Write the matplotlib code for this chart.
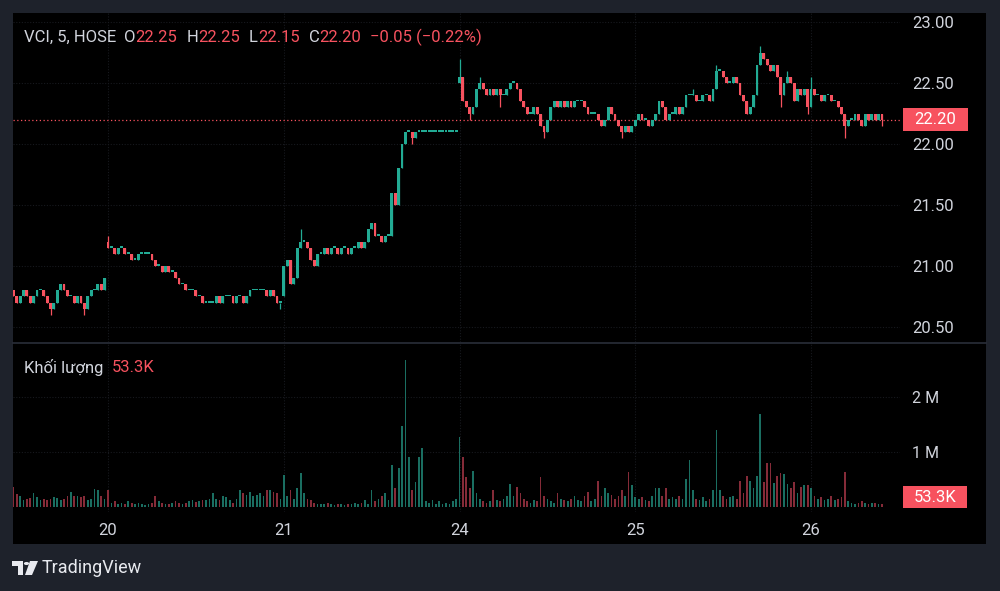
import matplotlib.pyplot as plt
from matplotlib.patches import Rectangle, Polygon, Circle

plt.rcParams['font.family'] = ['Roboto', 'DejaVu Sans']

W, H = 1000, 591

# trading days shown (5-minute bars)
days = ["19", "20", "21", "24", "25", "26"]
day_open = [20.80, 21.20, 20.75, 22.50, 22.15, 22.30]

close_19 = [20.75, 20.70, 20.75, 20.80, 20.75, 20.70, 20.75, 20.80, 20.80, 20.75,
            20.70, 20.65, 20.70, 20.80, 20.85, 20.80, 20.75, 20.75, 20.70, 20.75,
            20.70, 20.65, 20.75, 20.80, 20.80, 20.85, 20.80, 20.90]
close_20 = [21.15, 21.15, 21.10, 21.15, 21.15, 21.10, 21.10, 21.05, 21.05, 21.10,
            21.10, 21.10, 21.10, 21.05, 21.00, 21.00, 20.95, 21.00, 20.95, 20.95,
            20.90, 20.85, 20.85, 20.80, 20.80, 20.80, 20.75, 20.75, 20.70, 20.70,
            20.70, 20.70, 20.75, 20.70, 20.75, 20.75, 20.75, 20.70, 20.75, 20.75,
            20.70, 20.75, 20.80, 20.80, 20.80, 20.80, 20.80, 20.75, 20.80, 20.75,
            20.70, 20.70]
close_21 = [21.00, 21.05, 20.85, 20.90, 21.15, 21.20, 21.20, 21.15, 21.05, 21.00,
            21.10, 21.10, 21.15, 21.10, 21.15, 21.15, 21.10, 21.15, 21.15, 21.10,
            21.15, 21.15, 21.20, 21.15, 21.20, 21.30, 21.35, 21.25, 21.25, 21.20,
            21.25, 21.25, 21.60, 21.50, 21.80, 22.00, 22.10, 22.10, 22.05, 22.10,
            22.10, 22.10, 22.10, 22.10, 22.10, 22.10, 22.10, 22.10, 22.10, 22.10,
            22.10, 22.10]
close_24 = [22.55, 22.35, 22.30, 22.25, 22.30, 22.45, 22.50, 22.45, 22.40, 22.45,
            22.40, 22.45, 22.40, 22.40, 22.45, 22.50, 22.50, 22.45, 22.35, 22.30,
            22.25, 22.25, 22.30, 22.25, 22.15, 22.10, 22.20, 22.30, 22.35, 22.30,
            22.35, 22.30, 22.35, 22.30, 22.35, 22.35, 22.35, 22.30, 22.25, 22.25,
            22.25, 22.20, 22.15, 22.20, 22.30, 22.25, 22.20, 22.15, 22.10, 22.15,
            22.10, 22.15]
close_25 = [22.20, 22.25, 22.20, 22.20, 22.15, 22.20, 22.25, 22.35, 22.30, 22.20,
            22.25, 22.25, 22.30, 22.25, 22.30, 22.40, 22.40, 22.40, 22.35, 22.35,
            22.40, 22.40, 22.35, 22.45, 22.60, 22.60, 22.55, 22.50, 22.50, 22.55,
            22.50, 22.40, 22.35, 22.25, 22.30, 22.40, 22.65, 22.75, 22.70, 22.65,
            22.60, 22.65, 22.55, 22.40, 22.50, 22.55, 22.50, 22.35, 22.45, 22.40,
            22.45, 22.30]
close_26 = [22.45, 22.40, 22.40, 22.35, 22.40, 22.40, 22.35, 22.35, 22.30, 22.25,
            22.15, 22.20, 22.20, 22.25, 22.20, 22.15, 22.25, 22.20, 22.25, 22.20,
            22.25, 22.20]

# volume in millions of shares
vol_19 = [0.36, 0.23, 0.20, 0.12, 0.15, 0.16, 0.25, 0.18, 0.13, 0.14,
          0.13, 0.15, 0.18, 0.16, 0.12, 0.15, 0.20, 0.27, 0.20, 0.20,
          0.18, 0.20, 0.12, 0.15, 0.33, 0.30, 0.20, 0.15]
vol_20 = [0.30, 0.08, 0.10, 0.06, 0.08, 0.05, 0.10, 0.07, 0.05, 0.08,
          0.06, 0.04, 0.06, 0.08, 0.20, 0.10, 0.07, 0.05, 0.06, 0.08,
          0.10, 0.07, 0.05, 0.08, 0.10, 0.12, 0.09, 0.10, 0.13, 0.12,
          0.15, 0.25, 0.15, 0.12, 0.20, 0.18, 0.12, 0.08, 0.15, 0.30,
          0.25, 0.22, 0.27, 0.20, 0.22, 0.25, 0.20, 0.30, 0.30, 0.28,
          0.25, 0.15]
vol_21 = [0.58, 0.20, 0.30, 0.15, 0.35, 0.62, 0.25, 0.15, 0.12, 0.08,
          0.06, 0.05, 0.06, 0.08, 0.05, 0.04, 0.06, 0.05, 0.04, 0.06,
          0.05, 0.07, 0.05, 0.08, 0.12, 0.06, 0.30, 0.10, 0.15, 0.20,
          0.25, 0.12, 0.76, 0.34, 0.71, 1.47, 2.67, 0.90, 0.30, 0.45,
          0.90, 1.07, 0.10, 0.08, 0.12, 0.06, 0.10, 0.05, 0.08, 0.06,
          0.10, 0.15]
vol_24 = [1.27, 0.90, 0.55, 0.35, 0.65, 0.25, 0.15, 0.10, 0.08, 0.10,
          0.30, 0.12, 0.10, 0.15, 0.20, 0.42, 0.20, 0.37, 0.25, 0.15,
          0.10, 0.08, 0.12, 0.10, 0.55, 0.20, 0.15, 0.10, 0.08, 0.25,
          0.15, 0.12, 0.10, 0.15, 0.20, 0.12, 0.10, 0.20, 0.28, 0.10,
          0.15, 0.48, 0.20, 0.34, 0.25, 0.22, 0.15, 0.20, 0.30, 0.20,
          0.63, 0.40]
vol_25 = [0.18, 0.15, 0.18, 0.12, 0.10, 0.20, 0.34, 0.34, 0.20, 0.34,
          0.15, 0.18, 0.15, 0.20, 0.15, 0.50, 0.85, 0.30, 0.15, 0.12,
          0.18, 0.10, 0.15, 0.30, 1.40, 0.30, 0.20, 0.15, 0.18, 0.20,
          0.15, 0.47, 0.25, 0.56, 0.47, 0.35, 0.56, 1.70, 0.45, 0.80,
          0.80, 0.43, 0.56, 0.62, 0.60, 0.42, 0.34, 0.45, 0.25, 0.37,
          0.40, 0.40]
vol_26 = [0.34, 0.20, 0.15, 0.18, 0.12, 0.15, 0.20, 0.12, 0.15, 0.18,
          0.63, 0.10, 0.08, 0.06, 0.08, 0.10, 0.08, 0.06, 0.08, 0.07,
          0.06, 0.0533]

# wick extremes that go past the body, keyed by (day, bar of day)
wick_high = {("21", 5): 21.30, ("24", 0): 22.70, ("24", 6): 22.55,
             ("25", 17): 22.45, ("25", 24): 22.65, ("25", 37): 22.80,
             ("25", 45): 22.60, ("26", 0): 22.55, ("20", 0): 21.25}
wick_low = {("19", 11): 20.60, ("19", 21): 20.60, ("20", 51): 20.65,
            ("21", 38): 22.00, ("24", 3): 22.20, ("24", 12): 22.30,
            ("24", 25): 22.05, ("24", 48): 22.05, ("25", 43): 22.30,
            ("25", 51): 22.25, ("26", 10): 22.05, ("26", 21): 22.15}

price_ticks = [20.50, 21.00, 21.50, 22.00, 22.50, 23.00]
vol_ticks = [1, 2]
vol_tick_labels = ["1 M", "2 M"]
last_price = 22.20
last_vol_text = "53.3K"

UP, DOWN = "#22ab94", "#f7525f"
VUP, VDOWN = "#1a6e61", "#852b38"
GRID = "#17191e"
TXT = "#d1d4dc"

closes = [close_19, close_20, close_21, close_24, close_25, close_26]
vols = [vol_19, vol_20, vol_21, vol_24, vol_25, vol_26]

o, hi, lo, c, v, day_start = [], [], [], [], [], []
for d, op, cl, vl in zip(days, day_open, closes, vols):
    day_start.append(len(c))
    prev = op
    for k, (cc, vv) in enumerate(zip(cl, vl)):
        o.append(prev)
        c.append(cc)
        hi.append(wick_high.get((d, k), max(prev, cc)))
        lo.append(wick_low.get((d, k), min(prev, cc)))
        v.append(vv)
        prev = cc

idx = list(range(len(c)))
up = [cc >= oo for oo, cc in zip(o, c)]


def fx(x):
    return x / W


def fy(y):
    return 1 - y / H


fig = plt.figure(figsize=(W / 100, H / 100), dpi=100, facecolor="#1e222b")
fig.patches.append(Rectangle((fx(13), fy(544)), fx(986) - fx(13), fy(13) - fy(544),
                             transform=fig.transFigure, facecolor="black", zorder=-5))

xmin = day_start[1] - (108 - 13) / 3.38
xmax = xmin + 887 / 3.38

axp = fig.add_axes([fx(13), fy(342), fx(887), fy(13) - fy(342)])
axv = fig.add_axes([fx(13), fy(512), fx(887), fy(343) - fy(512)])

for ax in (axp, axv):
    ax.set_facecolor("none")
    for s in ax.spines.values():
        s.set_visible(False)
    ax.set_xlim(xmin, xmax)
    ax.set_xticks(day_start[1:])
    ax.yaxis.tick_right()
    ax.tick_params(length=0, colors=TXT, labelsize=12)
    ax.grid(True, color=GRID, lw=0.8, ls=(0, (1, 1.5)))
    ax.set_axisbelow(True)

# price pane
axp.set_ylim(20.377, 23.074)
axp.set_yticks(price_ticks)
axp.set_yticklabels(["%.2f" % t for t in price_ticks])
axp.tick_params(axis="y", pad=9)
axp.tick_params(axis="x", labelbottom=False)
cols = [UP if u else DOWN for u in up]
axp.vlines(idx, lo, hi, colors=cols, lw=0.9, zorder=2)
bottoms = [min(a, b) for a, b in zip(o, c)]
heights = [max(abs(b - a), 0.014) for a, b in zip(o, c)]
axp.bar(idx, heights, bottom=bottoms, width=0.85, color=cols, lw=0, zorder=3)
axp.axhline(last_price, color=DOWN, lw=0.9, ls=(0, (1, 2)), zorder=1)

# volume pane
axv.set_ylim(-0.091, 2.982)
axv.set_yticks(vol_ticks)
axv.set_yticklabels(vol_tick_labels)
axv.tick_params(axis="y", pad=9, labelsize=11.5)
axv.set_xticklabels(days[1:])
axv.tick_params(axis="x", pad=8, labelsize=12)
axv.bar(idx, v, width=0.5, color=[VUP if u else VDOWN for u in up], lw=0, zorder=2)

# pane separator
fig.add_artist(plt.Line2D([fx(13), fx(986)], [fy(342.5)] * 2, color="#2a2e39", lw=1.2))

# value labels on the price scale
py = 22 + (23 - last_price) * 122
fig.patches.append(Rectangle((fx(903), fy(py + 11.5)), fx(65), fy(0) - fy(23),
                             transform=fig.transFigure, facecolor=DOWN, zorder=5))
fig.text(fx(935.5), fy(py), "%.2f" % last_price, color="white", fontsize=12,
         ha="center", va="center", zorder=6)
fig.patches.append(Rectangle((fx(903), fy(508)), fx(64), fy(0) - fy(22),
                             transform=fig.transFigure, facecolor=DOWN, zorder=5))
fig.text(fx(935), fy(497), last_vol_text, color="white", fontsize=12,
         ha="center", va="center", zorder=6)

renderer = fig.canvas.get_renderer()


def text_run(x_px, y_px, parts, size):
    x = x_px
    for s, col, gap in parts:
        x += gap
        t = fig.text(fx(x), fy(y_px), s, color=col, fontsize=size, ha="left", va="center")
        x += t.get_window_extent(renderer).width


text_run(24, 37, [("VCI, 5, HOSE", TXT, 0), ("O", TXT, 8), ("22.25", DOWN, 0),
                  ("H", TXT, 9), ("22.25", DOWN, 0), ("L", TXT, 9), ("22.15", DOWN, 0),
                  ("C", TXT, 9), ("22.20", DOWN, 0), ("\u22120.05 (\u22120.22%)", DOWN, 9)], 12)
text_run(24, 367, [("Khối lượng", TXT, 0), (last_vol_text, DOWN, 8)], 12)

# TradingView logo and name
logo = "#e8eaef"
fig.patches.append(Polygon([(fx(12), fy(561)), (fx(23), fy(561)), (fx(23), fy(575)),
                            (fx(18), fy(575)), (fx(18), fy(566)), (fx(12), fy(566))],
                           closed=True, transform=fig.transFigure, facecolor=logo))
fig.patches.append(Circle((fx(26.5), fy(563.5)), 2.6 / W, transform=fig.transFigure,
                          facecolor=logo))
fig.patches.append(Polygon([(fx(30), fy(561)), (fx(38), fy(561)), (fx(32), fy(575)),
                            (fx(25), fy(575))],
                           closed=True, transform=fig.transFigure, facecolor=logo))
fig.text(fx(42), fy(568), "TradingView", color=logo, fontsize=13, ha="left", va="center")

fig.savefig("out.png", dpi=100, facecolor=fig.get_facecolor())
